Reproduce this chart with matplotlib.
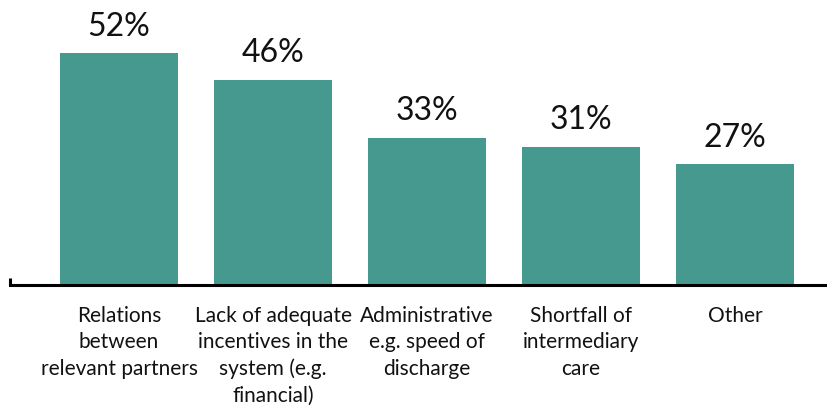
import numpy as np
import matplotlib
matplotlib.use("Agg")
import matplotlib.pyplot as plt

categories = ["Relations\nbetween\nrelevant partners",
              "Lack of adequate\nincentives in the\nsystem (e.g.\nfinancial)",
              "Administrative\ne.g. speed of\ndischarge",
              "Shortfall of\nintermediary\ncare",
              "Other"]
values = [52, 46, 33, 31, 27]

plt.rcParams['font.family'] = ['Lato', 'DejaVu Sans']

W, H = 828, 407
fig = plt.figure(figsize=(W / 100, H / 100), dpi=100)
base = 284.5
ax = fig.add_axes([10 / W, (H - base) / H, 818 / W, base / H])

x = np.arange(len(values))
ax.bar(x, values, width=0.766, color="#45998F")
ax.set_xlim(-0.708, 4.604)
ax.set_ylim(0, 64)

for xi, v in zip(x, values):
    ax.text(xi, v + 2.6, "%d%%" % v, ha="center", va="bottom", fontsize=23,
            color="#111111")

for xi, c in zip(x, categories):
    ax.text(xi, -4.8, c, ha="center", va="top", fontsize=15, color="#111111",
            linespacing=1.4)

for s in ["top", "right", "left"]:
    ax.spines[s].set_visible(False)
ax.spines["bottom"].set_linewidth(2.2)
ax.spines["bottom"].set_color("black")
ax.plot([0, 0], [0, 0.022], transform=ax.transAxes, color="black", lw=2.2,
        clip_on=False, solid_capstyle="butt")
ax.set_xticks([])
ax.set_yticks([])

fig.savefig("out.png", dpi=100)
